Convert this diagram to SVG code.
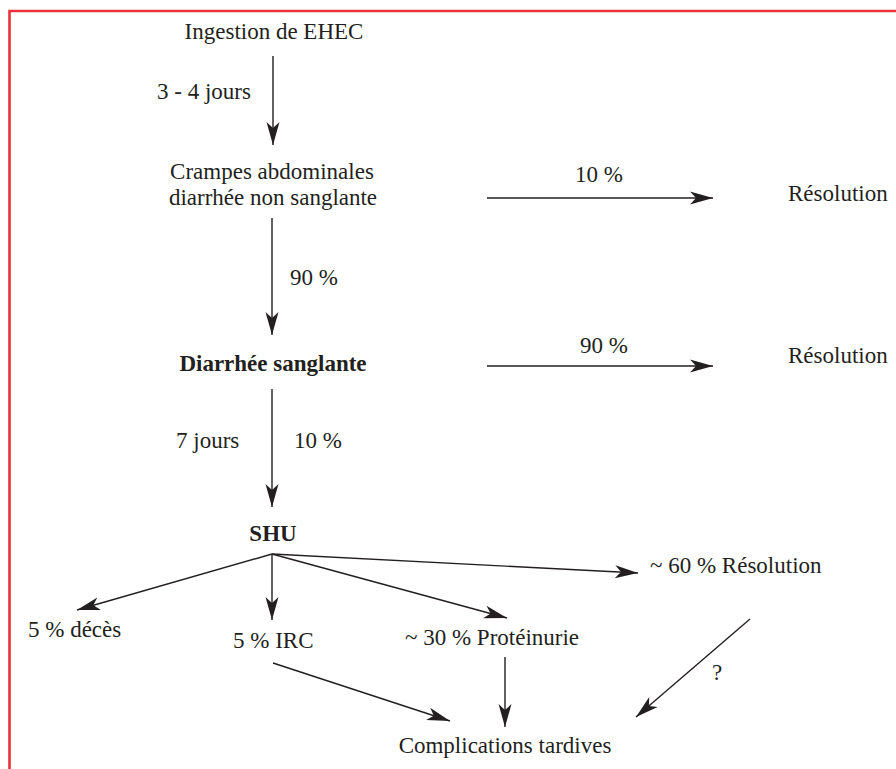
<svg xmlns="http://www.w3.org/2000/svg" width="896" height="769" viewBox="0 0 896 769">
<style>
  text { font-family: "Liberation Serif", "Times New Roman", serif; font-size: 23px; fill: #231f20; }
  .b { font-weight: bold; }
  .m { text-anchor: middle; }
  .c { stroke: #231f20; stroke-width: 1.4; fill: none; marker-end: url(#ah); }
  .frame { stroke: #e8313a; stroke-width: 2.6; fill: none; }
</style>
<defs>
  <marker id="ah" markerUnits="userSpaceOnUse" markerWidth="24" markerHeight="14" viewBox="-24 -7 24 14" refX="0" refY="0" orient="auto">
    <path d="M0,0 L-23,-6.5 L-17,0 L-23,6.5 Z" fill="#231f20"/>
  </marker>
</defs>
<rect width="896" height="769" fill="#ffffff"/>
<path class="frame" d="M9.5,769 L9.5,11 L896,11"/>

<g id="connectors">
  <line class="c" x1="273" y1="56" x2="273" y2="145"/>
  <line class="c" x1="272" y1="218" x2="272" y2="335"/>
  <line class="c" x1="272" y1="389" x2="272" y2="507"/>
  <line class="c" x1="487" y1="198" x2="713" y2="198"/>
  <line class="c" x1="487" y1="366" x2="713" y2="366"/>
  <line class="c" x1="272" y1="554" x2="77" y2="610"/>
  <line class="c" x1="272" y1="554" x2="272" y2="620"/>
  <line class="c" x1="272" y1="554" x2="507" y2="618"/>
  <line class="c" x1="272" y1="554" x2="638" y2="573"/>
  <line class="c" x1="273" y1="663" x2="450" y2="721"/>
  <line class="c" x1="505" y1="657" x2="505" y2="727"/>
  <line class="c" x1="750" y1="619" x2="636" y2="717"/>
</g>

<g id="edge-labels">
  <text x="157" y="99">3 - 4 jours</text>
  <text x="575" y="182">10 %</text>
  <text x="290" y="285">90 %</text>
  <text x="580" y="353">90 %</text>
  <text x="176" y="448">7 jours</text>
  <text x="294" y="448">10 %</text>
  <text x="717" y="680" class="m">?</text>
</g>

<g id="ingestion"><text x="274" y="39" class="m">Ingestion de EHEC</text></g>
<g id="crampes">
  <text x="272" y="179" class="m">Crampes abdominales</text>
  <text x="273" y="205" class="m">diarrhée non sanglante</text>
</g>
<g id="resolution1"><text x="788" y="201">Résolution</text></g>
<g id="diarrhee-sanglante"><text x="273" y="371" class="m b">Diarrhée sanglante</text></g>
<g id="resolution2"><text x="788" y="363">Résolution</text></g>
<g id="shu"><text x="273" y="541" class="m b">SHU</text></g>
<g id="deces"><text x="28" y="637">5 % décès</text></g>
<g id="irc"><text x="233" y="648">5 % IRC</text></g>
<g id="proteinurie"><text x="405" y="645">~ 30 % Protéinurie</text></g>
<g id="resolution3"><text x="650" y="573">~ 60 % Résolution</text></g>
<g id="complications"><text x="505" y="753" class="m">Complications tardives</text></g>
</svg>
